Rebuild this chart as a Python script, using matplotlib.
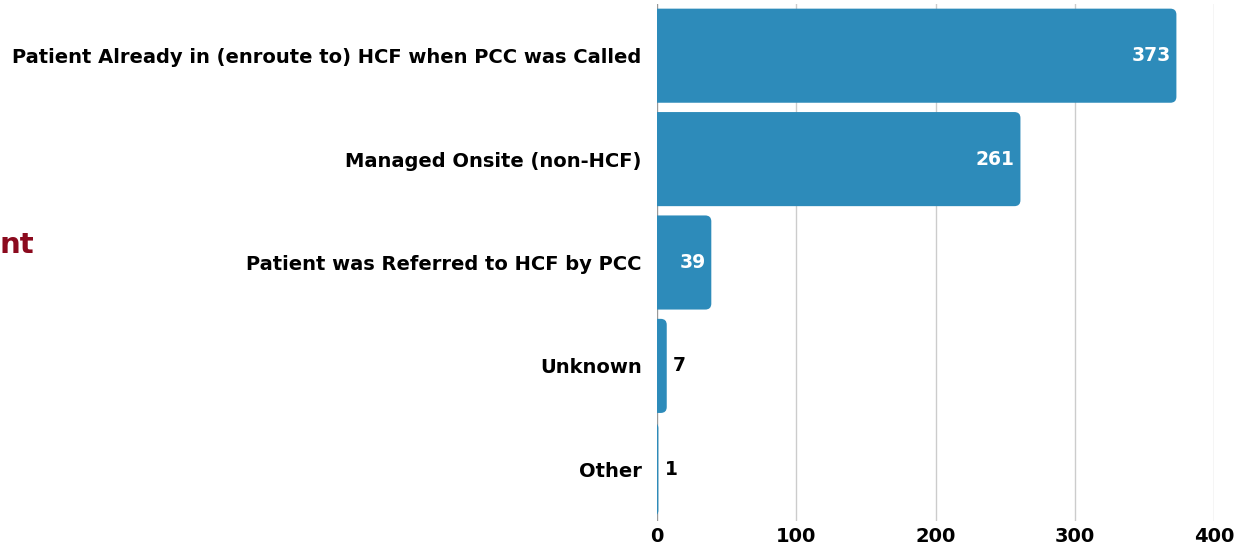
"""
Horizontal bar chart: outcome of PCC calls
"""
import matplotlib
matplotlib.use("Agg")
from matplotlib import pyplot as plt
from matplotlib.patches import FancyBboxPatch

categories = [
    "Patient Already in (enroute to) HCF when PCC was Called",
    "Managed Onsite (non-HCF)",
    "Patient was Referred to HCF by PCC",
    "Unknown",
    "Other",
]
counts = [373, 261, 39, 7, 1]
x_ticks = [0, 100, 200, 300, 400]

BAR_COLOR = "#2d8bba"
plt.rcParams["font.family"] = ["DejaVu Sans"]

fig = plt.figure(figsize=(12.53, 5.46), dpi=100)
ax = fig.add_axes([657 / 1253, 1 - 521 / 546, (1214 - 657) / 1253, 517 / 546])

ax.set_xlim(0, 400)
ax.set_ylim(len(categories) - 0.5, -0.5)

# rounded right corners: start the box left of 0 and let the axes clip it
rx = 4.3
ry = 0.058
bar_h = 0.91
for i, v in enumerate(counts):
    box = FancyBboxPatch((-10, i - bar_h / 2), v + 10, bar_h,
                         boxstyle=f"round,pad=0,rounding_size={rx}",
                         mutation_aspect=ry / rx,
                         facecolor=BAR_COLOR, edgecolor="none", zorder=2)
    ax.add_patch(box)
    if v > 20:
        ax.text(v - 4, i, str(v), ha="right", va="center", color="white",
                fontsize=13.5, fontweight="bold", zorder=3)
    else:
        ax.text(v + 4.5, i, str(v), ha="left", va="center", color="black",
                fontsize=13.5, fontweight="bold", zorder=3)

ax.set_yticks(range(len(categories)))
ax.set_yticklabels(categories, fontsize=14, fontweight="bold")
ax.set_xticks(x_ticks)
ax.set_xticklabels([str(t) for t in x_ticks], fontsize=14, fontweight="bold")
ax.tick_params(axis="both", length=0)
ax.tick_params(axis="y", pad=11)
ax.tick_params(axis="x", pad=4)

for t in x_ticks[1:]:
    ax.axvline(t, color="#cccccc", linewidth=1, zorder=1)
ax.axvline(0, color="#999999", linewidth=1, zorder=1)
for s in ax.spines.values():
    s.set_visible(False)

# title fragment at the left edge of the image
fig.text(0.0, 1 - 245 / 546, "nt", color="#8b0a1e", fontsize=21,
         fontweight="bold", ha="left", va="center")

fig.savefig("out.png", dpi=100)
